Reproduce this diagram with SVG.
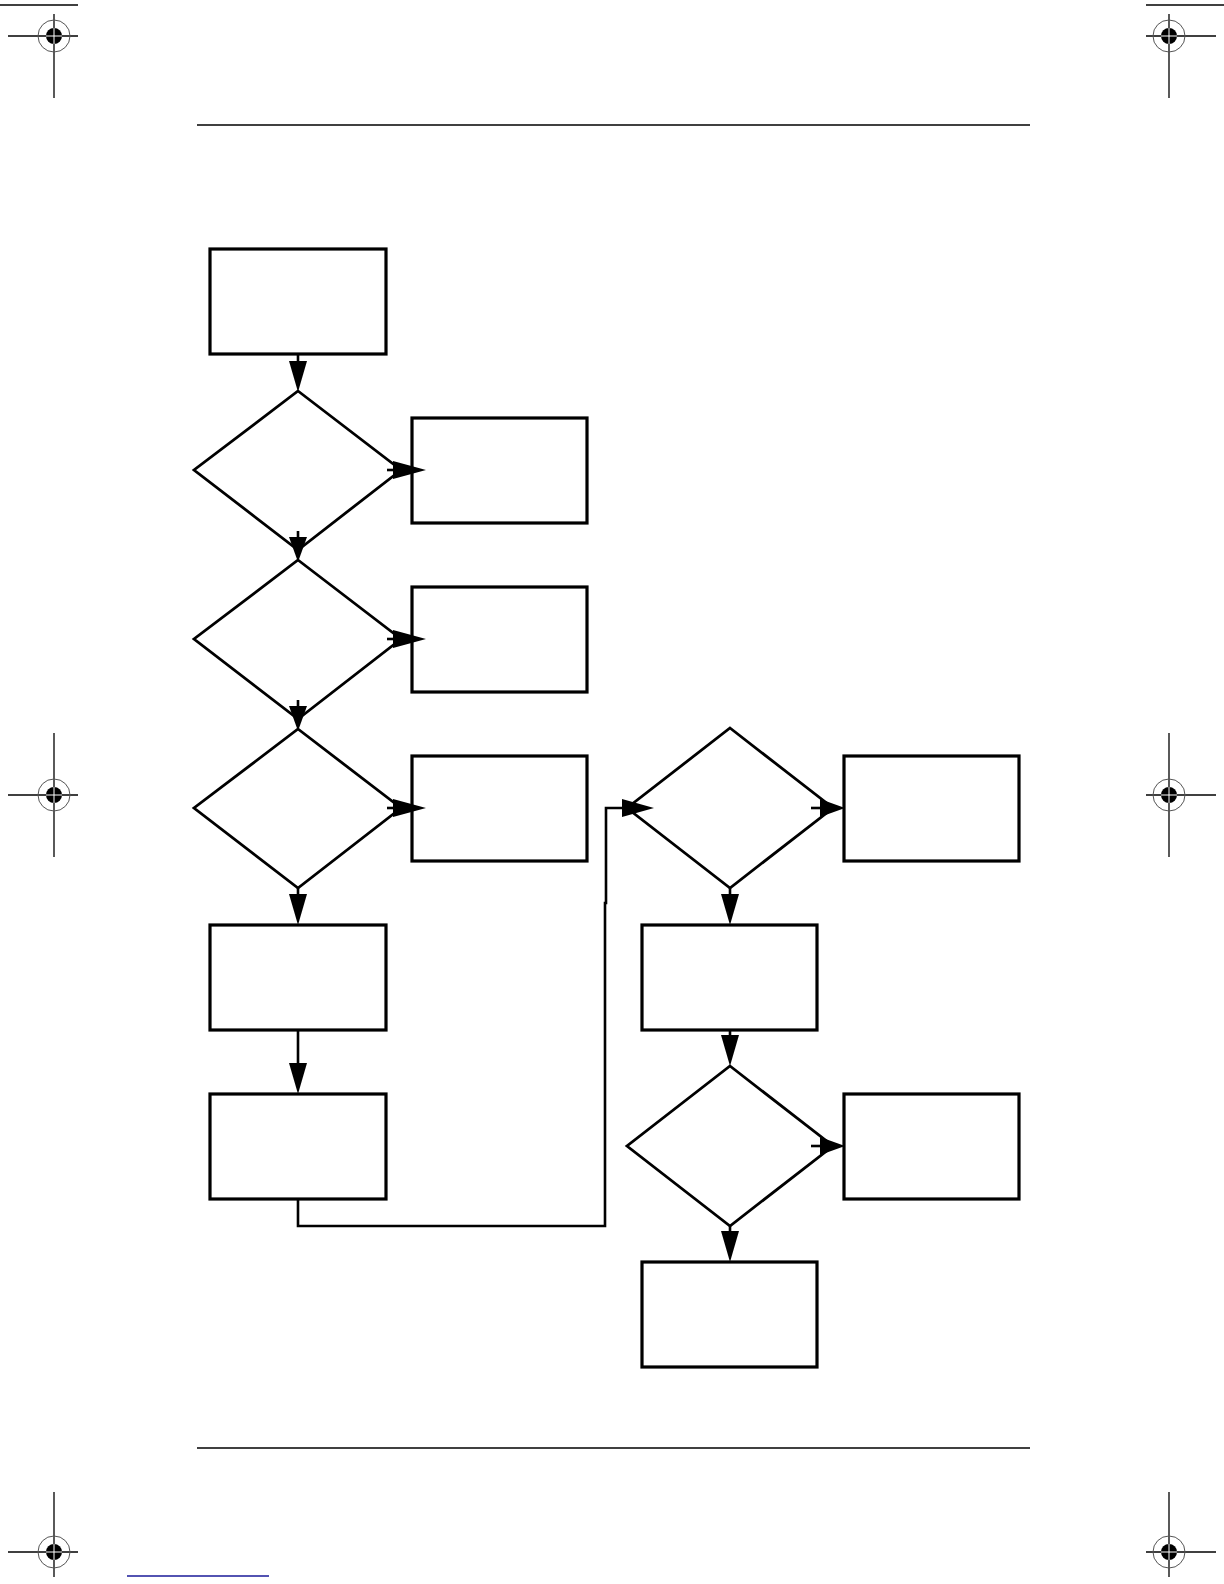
<svg xmlns="http://www.w3.org/2000/svg" width="1224" height="1584" viewBox="0 0 1224 1584">
<style>
.box{fill:#fff;stroke:#000;stroke-width:3.2}
.dia{fill:#fff;stroke:#000;stroke-width:2.8}
.con{fill:none;stroke:#000;stroke-width:2.6}
.head{fill:#000;stroke:none}
.rule{stroke:#000;stroke-width:1.5}
.crop{stroke:#000;stroke-width:1.3}
.ring{fill:none;stroke:#555;stroke-width:1}
.cut{stroke:#fff;stroke-width:1}
</style>
<rect width="1224" height="1584" fill="#fff"/>
<g id="page-marks">
<line class="crop" x1="0" y1="5" x2="78" y2="5"/>
<line class="crop" x1="1146" y1="5" x2="1224" y2="5"/>
<g>
<line class="crop" x1="8" y1="36" x2="78" y2="36"/>
<line class="crop" x1="54" y1="14" x2="54" y2="98"/>
<circle class="ring" cx="54" cy="36" r="16"/>
<circle cx="54" cy="36" r="8" fill="#000"/>
<line class="cut" x1="46" y1="36" x2="62" y2="36"/>
<line class="cut" x1="54" y1="28" x2="54" y2="44"/>
</g>
<g>
<line class="crop" x1="1146" y1="36" x2="1216" y2="36"/>
<line class="crop" x1="1169" y1="14" x2="1169" y2="98"/>
<circle class="ring" cx="1169" cy="36" r="16"/>
<circle cx="1169" cy="36" r="8" fill="#000"/>
<line class="cut" x1="1161" y1="36" x2="1177" y2="36"/>
<line class="cut" x1="1169" y1="28" x2="1169" y2="44"/>
</g>
<g>
<line class="crop" x1="8" y1="795" x2="78" y2="795"/>
<line class="crop" x1="54" y1="733" x2="54" y2="857"/>
<circle class="ring" cx="54" cy="795" r="16"/>
<circle cx="54" cy="795" r="8" fill="#000"/>
<line class="cut" x1="46" y1="795" x2="62" y2="795"/>
<line class="cut" x1="54" y1="787" x2="54" y2="803"/>
</g>
<g>
<line class="crop" x1="1146" y1="795" x2="1216" y2="795"/>
<line class="crop" x1="1169" y1="733" x2="1169" y2="857"/>
<circle class="ring" cx="1169" cy="795" r="16"/>
<circle cx="1169" cy="795" r="8" fill="#000"/>
<line class="cut" x1="1161" y1="795" x2="1177" y2="795"/>
<line class="cut" x1="1169" y1="787" x2="1169" y2="803"/>
</g>
<g>
<line class="crop" x1="8" y1="1552" x2="78" y2="1552"/>
<line class="crop" x1="54" y1="1492" x2="54" y2="1577"/>
<circle class="ring" cx="54" cy="1552" r="16"/>
<circle cx="54" cy="1552" r="8" fill="#000"/>
<line class="cut" x1="46" y1="1552" x2="62" y2="1552"/>
<line class="cut" x1="54" y1="1544" x2="54" y2="1560"/>
</g>
<g>
<line class="crop" x1="1146" y1="1552" x2="1216" y2="1552"/>
<line class="crop" x1="1169" y1="1492" x2="1169" y2="1577"/>
<circle class="ring" cx="1169" cy="1552" r="16"/>
<circle cx="1169" cy="1552" r="8" fill="#000"/>
<line class="cut" x1="1161" y1="1552" x2="1177" y2="1552"/>
<line class="cut" x1="1169" y1="1544" x2="1169" y2="1560"/>
</g>
<line class="rule" x1="197" y1="125" x2="1030" y2="125"/>
<line class="rule" x1="197" y1="1448" x2="1030" y2="1448"/>
<line x1="127" y1="1576" x2="269" y2="1576" stroke="#1a1a99" stroke-width="1.5"/>
</g>
<g id="n-start"><rect class="box" x="210" y="249" width="176" height="105"/></g>
<g id="d1"><polygon class="dia" points="298,391 401,470 298,550 194,470"/></g>
<g id="r1"><rect class="box" x="412" y="418" width="175" height="105"/></g>
<g id="d2"><polygon class="dia" points="298,560 401,639 298,719 194,639"/></g>
<g id="r2"><rect class="box" x="412" y="587" width="175" height="105"/></g>
<g id="d3"><polygon class="dia" points="298,729 401,808 298,888 194,808"/></g>
<g id="r3"><rect class="box" x="412" y="756" width="175" height="105"/></g>
<g id="b4"><rect class="box" x="210" y="925" width="176" height="105"/></g>
<g id="b5"><rect class="box" x="210" y="1094" width="176" height="105"/></g>
<g id="d4"><polygon class="dia" points="730,728 833,808 730,888 627,808"/></g>
<g id="r4"><rect class="box" x="844" y="756" width="175" height="105"/></g>
<g id="b6"><rect class="box" x="642" y="925" width="175" height="105"/></g>
<g id="d5"><polygon class="dia" points="730,1066 833,1146 730,1226 627,1146"/></g>
<g id="r5"><rect class="box" x="844" y="1094" width="175" height="105"/></g>
<g id="b7"><rect class="box" x="642" y="1262" width="175" height="105"/></g>
<g id="connectors">
<!-- start -> d1 -->
<line class="con" x1="298" y1="354" x2="298" y2="362"/>
<path class="head" d="M289,361 L298,392 L307,361 Z"/>
<!-- d1 -> r1 -->
<line class="con" x1="387" y1="470" x2="395" y2="470"/>
<path class="head" d="M393,461 L426,470 L393,479 Z"/>
<!-- d1 -> d2 -->
<line class="con" x1="298" y1="531" x2="298" y2="540"/>
<path class="head" d="M289,537 L298,562 L307,537 Z"/>
<!-- d2 -> r2 -->
<line class="con" x1="387" y1="639" x2="395" y2="639"/>
<path class="head" d="M393,630 L426,639 L393,648 Z"/>
<!-- d2 -> d3 -->
<line class="con" x1="298" y1="700" x2="298" y2="709"/>
<path class="head" d="M289,706 L298,731 L307,706 Z"/>
<!-- d3 -> r3 -->
<line class="con" x1="387" y1="808" x2="395" y2="808"/>
<path class="head" d="M393,799 L426,808 L393,817 Z"/>
<!-- d3 -> b4 -->
<line class="con" x1="298" y1="888" x2="298" y2="896"/>
<path class="head" d="M289,894 L298,925 L307,894 Z"/>
<!-- b4 -> b5 -->
<line class="con" x1="298" y1="1030" x2="298" y2="1065"/>
<path class="head" d="M289,1063 L298,1094 L307,1063 Z"/>
<!-- b5 -> d4 -->
<polyline class="con" points="298,1199 298,1226 605,1226 605,903 606,903 606,808 625,808"/>
<path class="head" d="M622,799 L654,808 L622,817 Z"/>
<!-- d4 -> r4 -->
<line class="con" x1="811" y1="808" x2="822" y2="808"/>
<path class="head" d="M820,799 L845,808 L820,817 Z"/>
<!-- d4 -> b6 -->
<line class="con" x1="730" y1="888" x2="730" y2="896"/>
<path class="head" d="M721,894 L730,925 L739,894 Z"/>
<!-- b6 -> d5 -->
<line class="con" x1="730" y1="1030" x2="730" y2="1037"/>
<path class="head" d="M721,1035 L730,1066 L739,1035 Z"/>
<!-- d5 -> r5 -->
<line class="con" x1="811" y1="1146" x2="822" y2="1146"/>
<path class="head" d="M820,1137 L845,1146 L820,1155 Z"/>
<!-- d5 -> b7 -->
<line class="con" x1="730" y1="1226" x2="730" y2="1233"/>
<path class="head" d="M721,1231 L730,1262 L739,1231 Z"/>
</g>
</svg>
